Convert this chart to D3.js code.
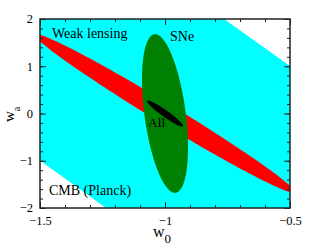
<!DOCTYPE html>
<html><head><meta charset="utf-8">
<script src="https://cdn.jsdelivr.net/npm/d3@7"></script>
<style>body{margin:0;background:#fff}svg{display:block}text{font-family:"Liberation Serif","Times New Roman",serif}</style>
</head><body>
<svg id="c" width="319" height="246"></svg>
<script>
// Data
const xDomain = [-1.5, -0.5];
const yDomain = [-2, 2];
const xTickLabels = [-1.5, -1, -0.5];
const yTickLabels = [-2, -1, 0, 1, 2];
const xMinorStep = 0.1;
const yMinorStep = 0.2;
// CMB (Planck) band polygon (w0, wa)
const cmbW0 = [-1.5, -0.764, -0.5, -0.5, -1.236, -1.5];
const cmbWa = [2, 2, 1.005, -2, -2, -0.995];
// ellipses: name, center, half-extent in w0, half-extent in wa, correlation
const ellNames = ["Weak lensing", "SNe", "All"];
const ellCx = [-1.0, -1.0, -1.0];
const ellCy = [0.0, 0.0, 0.0];
const ellSx = [0.52, 0.092, 0.072];
const ellSy = [1.68, 1.68, 0.275];
const ellRho = [-0.989, -0.43, -0.95];
const ellColors = ["#ff0000", "#008000", "#000000"];

const svg = d3.select("#c");
const L = 40, R = 290, T = 19, B = 208;
const x = d3.scaleLinear().domain(xDomain).range([L, R]);
const y = d3.scaleLinear().domain(yDomain).range([B, T]);

svg.append("clipPath").attr("id", "clip").append("rect")
  .attr("x", L).attr("y", T).attr("width", R - L).attr("height", B - T);
const g = svg.append("g").attr("clip-path", "url(#clip)");

const line = d3.line().x(d => x(d[0])).y(d => y(d[1]));
g.append("path").datum(cmbW0.map((v, i) => [v, cmbWa[i]]))
  .attr("d", d => line(d) + "Z").attr("fill", "#00ffff");

ellNames.forEach((n, i) => {
  const pts = d3.range(0, 361, 2).map(a => {
    const t = a * Math.PI / 180;
    return [ellCx[i] + ellSx[i] * Math.cos(t),
            ellCy[i] + ellSy[i] * (ellRho[i] * Math.cos(t) + Math.sqrt(1 - ellRho[i] * ellRho[i]) * Math.sin(t))];
  });
  g.append("path").datum(pts).attr("d", d => line(d) + "Z").attr("fill", ellColors[i]);
});

// axes
const xMinor = d3.range(xDomain[0], xDomain[1] + 1e-9, xMinorStep);
const yMinor = d3.range(yDomain[0], yDomain[1] + 1e-9, yMinorStep);
function ax(gen, tr, ticks, size, labels, pad) {
  const a = svg.append("g").attr("transform", tr)
    .call(gen.tickValues(ticks).tickSize(size).tickPadding(pad)
      .tickFormat(labels ? d3.format("") : () => ""));
  a.select(".domain").remove();
  a.selectAll("line").attr("stroke", "#222");
  a.selectAll("text").attr("font-size", 12.5).attr("fill", "#000")
   .style("font-family", '"Liberation Serif", serif');
  return a;
}
ax(d3.axisBottom(x), `translate(0,${B})`, xMinor, -3, false, 0);
ax(d3.axisBottom(x), `translate(0,${B})`, xTickLabels, -6, true, 8.5);
ax(d3.axisTop(x), `translate(0,${T})`, xMinor, -3, false, 0);
ax(d3.axisTop(x), `translate(0,${T})`, xTickLabels, -6, false, 0);
ax(d3.axisLeft(y), `translate(${L},0)`, yMinor, -3, false, 0);
ax(d3.axisLeft(y), `translate(${L},0)`, yTickLabels, -6, true, 7).selectAll("text").attr("dy", "0.3em");
ax(d3.axisRight(y), `translate(${R},0)`, yMinor, -3, false, 0);
ax(d3.axisRight(y), `translate(${R},0)`, yTickLabels, -6, false, 0);

svg.append("rect").attr("x", L).attr("y", T).attr("width", R - L).attr("height", B - T)
  .attr("fill", "none").attr("stroke", "#222").attr("stroke-width", 1.5);

// labels
const lab = (t, px, py, fs) => svg.append("text").attr("x", px).attr("y", py)
  .attr("font-size", fs).attr("fill", "#000").text(t);
lab("Weak lensing", 52, 38, 14);
lab("SNe", 170, 41, 14);
lab("CMB (Planck)", 49, 195, 14);
lab("All", 148, 127, 13.5);

const xl = svg.append("text").attr("x", 153).attr("y", 237).attr("font-size", 16).attr("fill", "#000");
xl.append("tspan").text("w");
xl.append("tspan").attr("font-size", 13).attr("dy", 6).text("0");

const yl = svg.append("text").attr("transform", "translate(13.5,122) rotate(-90)").attr("font-size", 15).attr("fill", "#000");
yl.append("tspan").text("w");
yl.append("tspan").attr("font-size", 10).attr("dy", 6).text("a");
</script>
</body></html>
